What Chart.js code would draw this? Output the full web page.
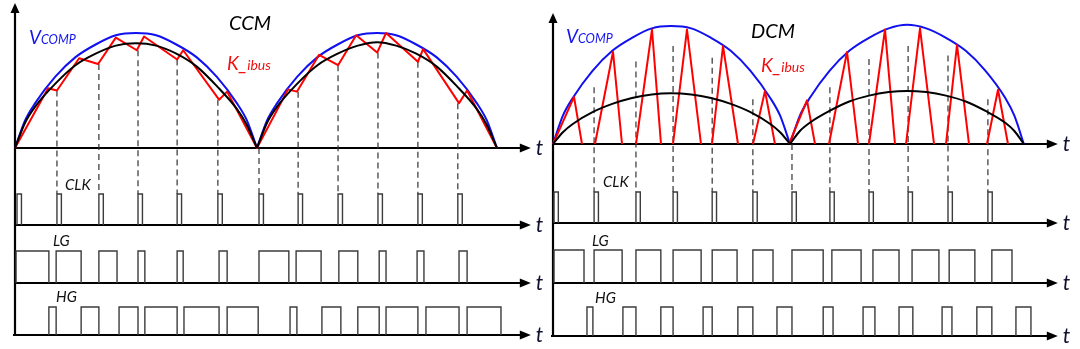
<!DOCTYPE html>
<html>
<head>
<meta charset="utf-8">
<script src="https://cdn.jsdelivr.net/npm/chart.js@4"></script>
<style>
  html, body { margin: 0; padding: 0; background: #fff; }
  #wrap { position: relative; width: 1080px; height: 349px; overflow: hidden; }
  canvas { position: absolute; top: 0; }
  #ccmChart { left: 0; }
  #dcmChart { left: 540px; }
</style>
</head>
<body>
<div id="wrap">
  <canvas id="ccmChart" width="548" height="349"></canvas>
  <canvas id="dcmChart" width="540" height="349"></canvas>
</div>
<script>
// ---- CCM data (time in us, analog values normalised to Vcomp peak) ----
const ccmVcompT = [0, 2.5, 5, 10, 15, 20, 25, 30, 35, 40, 45, 50, 55, 57.5, 60];
const ccmVcompV = [0, 0.24, 0.39, 0.62, 0.79, 0.90, 0.98, 1.0, 0.98, 0.90, 0.79, 0.62, 0.39, 0.24, 0];
const ccmVcomp2T = [60, 62.5, 65, 70, 75, 80, 85, 89.8, 94.5, 99.5, 104.5, 109.5, 114.5, 117, 119.5];
const ccmVcomp2V = [0, 0.24, 0.39, 0.62, 0.79, 0.90, 0.98, 1.0, 0.98, 0.90, 0.79, 0.62, 0.39, 0.24, 0];
const ccmAvgT = [0, 2.5, 5, 10, 15, 20, 25, 30, 35, 40, 45, 50, 55, 57.5, 60];
const ccmAvgV = [0, 0.22, 0.36, 0.56, 0.72, 0.82, 0.89, 0.91, 0.89, 0.82, 0.71, 0.54, 0.34, 0.20, 0];
const ccmAvg2T = [60, 62.5, 65, 70, 75, 80, 85, 89.8, 94.5, 99.5, 104.5, 109.5, 114.5, 117, 119.5];
const ccmAvg2V = [0, 0.22, 0.36, 0.56, 0.72, 0.82, 0.89, 0.92, 0.89, 0.82, 0.71, 0.54, 0.34, 0.20, 0];
const ccmIbusT = [0, 8.2, 10.4, 15.9, 20.6, 25.0, 30.2, 32.0, 40.2, 41.7, 50.6, 52.6, 60.0,
                  67.7, 69.9, 75.4, 80.1, 84.6, 89.8, 92.0, 99.9, 101.2, 110.1, 112.1, 119.5];
const ccmIbusV = [0, 0.52, 0.50, 0.78, 0.73, 0.96, 0.85, 0.97, 0.77, 0.85, 0.42, 0.49, 0,
                  0.51, 0.49, 0.81, 0.72, 0.98, 0.83, 1.0, 0.75, 0.86, 0.39, 0.50, 0];
const ccmClk = [0.5, 10.4, 20.8, 30.5, 40.2, 50.3, 60.5, 70.2, 80.1, 90.0, 99.9, 109.8];
const ccmDashTop = [0.50, 0.73, 0.85, 0.77, 0.42, 0, 0.49, 0.72, 0.83, 0.75, 0.39];
const ccmLg = [[0.25, 8.4], [10.2, 16.4], [20.8, 25.3], [30.5, 32.2], [40.2, 41.7], [50.6, 52.6],
               [60.5, 67.9], [69.7, 75.9], [80.3, 85.0], [90.3, 92.0], [99.7, 101.4], [110.1, 112.1]];
const ccmHg = [[8.4, 10.2], [16.4, 20.8], [25.8, 30.5], [32.2, 40.2], [41.9, 50.6], [52.6, 60.3],
               [68.2, 69.9], [76.1, 80.8], [85.0, 90.3], [92.0, 99.9], [101.9, 110.1], [112.1, 120.5]];

// ---- DCM data ----
const dcmVcompT = [0, 2.5, 5, 10, 15, 20, 25, 29.8, 35, 40, 45, 50, 55, 57.5, 60];
const dcmVcompV = [0, 0.24, 0.39, 0.62, 0.79, 0.90, 0.98, 1.0, 0.98, 0.90, 0.79, 0.62, 0.39, 0.24, 0];
const dcmVcomp2T = [60, 62.5, 65, 70, 75, 80, 85, 89.6, 94.5, 99.5, 104.5, 109.5, 114.5, 116.8, 119.2];
const dcmVcomp2V = [0, 0.24, 0.39, 0.62, 0.79, 0.90, 0.98, 1.01, 0.98, 0.90, 0.79, 0.62, 0.39, 0.24, 0];
const dcmAvgT = [0, 2.5, 5, 10, 15, 20, 25, 29.8, 35, 40, 45, 50, 55, 57.5, 60];
const dcmAvgV = [0, 0.10, 0.17, 0.27, 0.34, 0.39, 0.42, 0.43, 0.42, 0.39, 0.34, 0.27, 0.17, 0.10, 0];
const dcmAvg2T = [60, 62.5, 65, 70, 75, 80, 85, 89.6, 94.5, 99.5, 104.5, 109.5, 114.5, 116.8, 119.2];
const dcmAvg2V = [0, 0.11, 0.18, 0.28, 0.36, 0.41, 0.44, 0.45, 0.44, 0.41, 0.36, 0.28, 0.18, 0.11, 0];
const dcmIbusStart = [0, 10.63, 21.01, 30.38, 40.25, 50.63, 59.75, 69.87, 80.0, 89.37, 99.49, 109.87];
const dcmIbusPeakT = [5.32, 15.19, 25.06, 33.92, 43.04, 53.67, 64.3, 74.43, 84.05, 92.91, 102.28, 112.66];
const dcmIbusPeak = [0.40, 0.78, 0.97, 0.97, 0.83, 0.45, 0.37, 0.78, 0.97, 0.98, 0.84, 0.46];
const dcmIbusEnd = [7.34, 17.47, 27.34, 37.47, 46.84, 56.2, 66.33, 77.22, 86.58, 96.46, 105.32, 115.19];
const dcmClk = [0.25, 10.4, 21.0, 30.4, 40.3, 50.6, 60.5, 70.1, 80.0, 89.9, 100.0, 110.1];
const dcmDashTop = [0.48, 0.70, 0.83, 0.73, 0.38, 0, 0.48, 0.72, 0.83, 0.75, 0.38];
const dcmLg = [[0.25, 7.85], [10.4, 17.5], [21.0, 27.3], [30.4, 37.5], [40.3, 46.6], [50.6, 55.7],
               [60.5, 68.4], [70.6, 78.0], [81.0, 87.6], [90.9, 97.7], [100.3, 106.8], [111.1, 116.2]];
const dcmHg = [[8.6, 10.1], [17.7, 21.0], [27.3, 30.4], [38.0, 40.3], [46.8, 50.6], [56.7, 60.5],
               [68.4, 70.9], [78.5, 81.5], [87.6, 91.1], [98.5, 101.0], [107.3, 111.1], [117.2, 121.0]];

const clkWidth = 1.1;

// ---- layout (pixels) ----
const FONT = "'Lato', 'Open Sans', sans-serif";
const ccmLayout = {
    width: 548, originPx: 15, pxPerUs: 4.033,
    rows: { yMain: [148, 115], yClk: [225, 31], yLg: [283, 32], yHg: [335, 28] },
    axisTop: 1.26, arrowEnd: 127.9,
    labels: [
        { x: 229, y: 30, color: '#000', parts: [['CCM', 20]] },
        { x: 29, y: 44, color: '#1414f0', parts: [['V', 19], ['COMP', 12.5]] },
        { x: 227, y: 70, color: '#f01010', parts: [['K_', 19], ['ibus', 14]] },
        { x: 65, y: 190, color: '#111', parts: [['CLK', 15]] },
        { x: 53, y: 246, color: '#111', parts: [['LG', 15]] },
        { x: 56, y: 302, color: '#111', parts: [['HG', 15]] }
    ]
};
const dcmLayout = {
    width: 540, originPx: 13, pxPerUs: 3.95,
    rows: { yMain: [144, 118], yClk: [223, 31], yLg: [283, 33], yHg: [336, 29] },
    axisTop: 1.11, arrowEnd: 127.8,
    labels: [
        { x: 211, y: 38, color: '#000', parts: [['DCM', 20]] },
        { x: 26, y: 43, color: '#1414f0', parts: [['V', 19], ['COMP', 12.5]] },
        { x: 221, y: 72, color: '#f01010', parts: [['K_', 19], ['ibus', 14]] },
        { x: 63, y: 187, color: '#111', parts: [['CLK', 15]] },
        { x: 52, y: 246, color: '#111', parts: [['LG', 15]] },
        { x: 55, y: 303, color: '#111', parts: [['HG', 15]] }
    ]
};

function xy(ts, vs) {
    return ts.map((t, i) => ({ x: t, y: vs[i] }));
}

function pulses(list) {
    const pts = [];
    list.forEach(([a, b]) => {
        pts.push({ x: a, y: 0 }, { x: a, y: 1 }, { x: b, y: 1 }, { x: b, y: 0 }, { x: b, y: null });
    });
    return pts;
}

function triangles(starts, peakT, peaks, ends) {
    const pts = [];
    starts.forEach((s, i) => {
        pts.push({ x: s, y: 0 }, { x: peakT[i], y: peaks[i] }, { x: ends[i], y: 0 }, { x: ends[i], y: null });
    });
    return pts;
}

const panelDecor = {
    id: 'panelDecor',
    beforeDatasetsDraw(chart, args, opts) {
        const L = opts.layout, ctx = chart.ctx, sx = chart.scales.x;
        const x0 = sx.getPixelForValue(0);
        const xEnd = sx.getPixelForValue(L.arrowEnd);
        ctx.save();
        ctx.strokeStyle = '#000';
        ctx.fillStyle = '#000';
        ctx.lineWidth = 2.2;

        // vertical axis with arrow
        const yTop = chart.scales.yMain.getPixelForValue(L.axisTop);
        const yBot = chart.scales.yHg.getPixelForValue(0) + 1;
        ctx.beginPath();
        ctx.moveTo(x0, yTop + 8);
        ctx.lineTo(x0, yBot);
        ctx.stroke();
        ctx.beginPath();
        ctx.moveTo(x0, yTop);
        ctx.lineTo(x0 - 4.5, yTop + 10);
        ctx.lineTo(x0 + 4.5, yTop + 10);
        ctx.closePath();
        ctx.fill();

        // time axes for each row
        ['yMain', 'yClk', 'yLg', 'yHg'].forEach(id => {
            const yb = chart.scales[id].getPixelForValue(0);
            ctx.beginPath();
            ctx.moveTo(x0 - (id === 'yHg' ? 2 : 0), yb);
            ctx.lineTo(xEnd - 8, yb);
            ctx.stroke();
            ctx.beginPath();
            ctx.moveTo(xEnd, yb);
            ctx.lineTo(xEnd - 11, yb - 4.5);
            ctx.lineTo(xEnd - 11, yb + 4.5);
            ctx.closePath();
            ctx.fill();
            ctx.font = 'italic 21px ' + FONT;
            ctx.fillStyle = '#101030';
            ctx.fillText('t', xEnd + 5, yb + 7);
            ctx.fillStyle = '#000';
        });

        // dashed sampling lines from the current down to the clock pulses
        ctx.strokeStyle = '#333';
        ctx.lineWidth = 1.2;
        ctx.setLineDash([6, 4]);
        opts.clk.slice(1).forEach((t, i) => {
            const px = sx.getPixelForValue(t);
            ctx.beginPath();
            ctx.moveTo(px, chart.scales.yMain.getPixelForValue(opts.dashTop[i]));
            ctx.lineTo(px, chart.scales.yClk.getPixelForValue(1));
            ctx.stroke();
        });
        ctx.restore();
    },
    afterDatasetsDraw(chart, args, opts) {
        const ctx = chart.ctx;
        ctx.save();
        ctx.textBaseline = 'alphabetic';
        opts.layout.labels.forEach(lb => {
            let x = lb.x;
            ctx.fillStyle = lb.color;
            lb.parts.forEach(([txt, size]) => {
                ctx.font = 'italic ' + size + 'px ' + FONT;
                ctx.fillText(txt, x, lb.y);
                x += ctx.measureText(txt).width;
            });
        });
        ctx.restore();
    }
};

function makePanel(canvasId, L, d) {
    const H = 349;
    const scales = {
        x: { type: 'linear', display: false,
             min: -L.originPx / L.pxPerUs, max: (L.width - L.originPx) / L.pxPerUs }
    };
    Object.keys(L.rows).forEach(id => {
        const [zero, unit] = L.rows[id];
        const max = zero / unit;
        scales[id] = { type: 'linear', display: false, position: 'left', min: max - H / unit, max: max };
    });

    const smooth = { pointRadius: 0, borderWidth: 2, cubicInterpolationMode: 'monotone', fill: false, yAxisID: 'yMain' };
    const digital = { pointRadius: 0, borderWidth: 1.4, borderColor: '#3c3c3c', tension: 0, fill: false };

    new Chart(document.getElementById(canvasId), {
        type: 'line',
        data: {
            datasets: [
                Object.assign({ label: 'avg1', data: xy(d.avgT, d.avgV), borderColor: '#000' }, smooth),
                Object.assign({ label: 'avg2', data: xy(d.avg2T, d.avg2V), borderColor: '#000' }, smooth),
                { label: 'K_ibus', data: d.ibus, borderColor: '#ff0000', borderWidth: 2, borderJoinStyle: 'round',
                  pointRadius: 0, tension: 0, yAxisID: 'yMain' },
                Object.assign({ label: 'Vcomp1', data: xy(d.vcT, d.vcV), borderColor: '#1010f0' }, smooth),
                Object.assign({ label: 'Vcomp2', data: xy(d.vc2T, d.vc2V), borderColor: '#1010f0' }, smooth),
                Object.assign({ label: 'CLK', data: pulses(d.clk.map(t => [t, t + clkWidth])), yAxisID: 'yClk' }, digital),
                Object.assign({ label: 'LG', data: pulses(d.lg), yAxisID: 'yLg' }, digital),
                Object.assign({ label: 'HG', data: pulses(d.hg), yAxisID: 'yHg' }, digital)
            ]
        },
        options: {
            responsive: false,
            animation: false,
            devicePixelRatio: 1,
            layout: { padding: 0 },
            clip: false,
            plugins: {
                legend: { display: false },
                tooltip: { enabled: false },
                panelDecor: { layout: L, clk: d.clk, dashTop: d.dashTop }
            },
            scales: scales
        },
        plugins: [panelDecor]
    });
}

makePanel('ccmChart', ccmLayout, {
    vcT: ccmVcompT, vcV: ccmVcompV, vc2T: ccmVcomp2T, vc2V: ccmVcomp2V,
    avgT: ccmAvgT, avgV: ccmAvgV, avg2T: ccmAvg2T, avg2V: ccmAvg2V,
    ibus: xy(ccmIbusT, ccmIbusV),
    clk: ccmClk, dashTop: ccmDashTop, lg: ccmLg, hg: ccmHg
});

makePanel('dcmChart', dcmLayout, {
    vcT: dcmVcompT, vcV: dcmVcompV, vc2T: dcmVcomp2T, vc2V: dcmVcomp2V,
    avgT: dcmAvgT, avgV: dcmAvgV, avg2T: dcmAvg2T, avg2V: dcmAvg2V,
    ibus: triangles(dcmIbusStart, dcmIbusPeakT, dcmIbusPeak, dcmIbusEnd),
    clk: dcmClk, dashTop: dcmDashTop, lg: dcmLg, hg: dcmHg
});
</script>
</body>
</html>
